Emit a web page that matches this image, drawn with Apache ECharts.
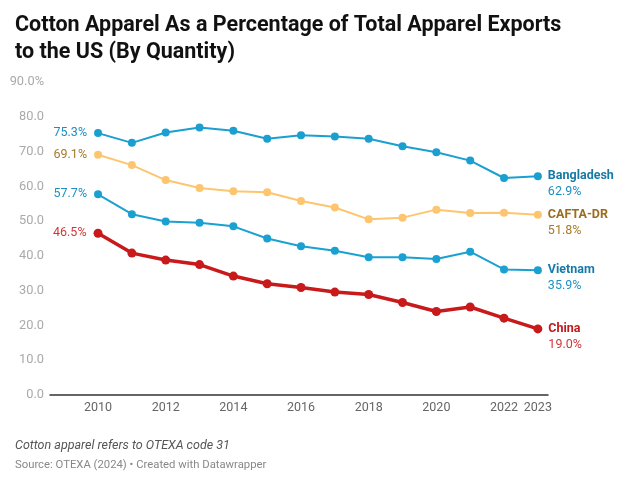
<!DOCTYPE html>
<html>
<head>
<meta charset="utf-8">
<script src="https://cdn.jsdelivr.net/npm/echarts@6/dist/echarts.min.js"></script>
<style>
    html, body { margin: 0; padding: 0; background: #fff; }
    #chart { width: 624px; height: 479px; }
</style>
</head>
<body>
<div id="chart"></div>
<script>
    // years on the x axis
    var years = [2010, 2011, 2012, 2013, 2014, 2015, 2016, 2017, 2018, 2019, 2020, 2021, 2022, 2023];
    var yearTicks = [2010, 2012, 2014, 2016, 2018, 2020, 2022, 2023];

    // share of cotton apparel, %
    var bangladesh = [75.3, 72.5, 75.5, 76.9, 76.0, 73.7, 74.7, 74.3, 73.7, 71.5, 69.8, 67.4, 62.4, 62.9];
    var cafta = [69.1, 66.1, 61.8, 59.5, 58.6, 58.3, 55.8, 53.9, 50.5, 51.0, 53.3, 52.3, 52.4, 51.8];
    var vietnam = [57.7, 52.0, 49.9, 49.5, 48.5, 45.0, 42.8, 41.5, 39.6, 39.6, 39.1, 41.2, 36.1, 35.9];
    var china = [46.5, 40.8, 38.8, 37.5, 34.2, 32.0, 30.9, 29.6, 28.9, 26.6, 24.0, 25.3, 22.1, 19.0];

    var myChart = echarts.init(document.getElementById('chart'));

    function pairs(vals) {
        return years.map(function (y, i) { return [y, vals[i]]; });
    }

    // one line with a % label at the start and name + value at the end
    function makeSeries(name, vals, lineColor, nameColor, valColor, width, symSize) {
        var d = pairs(vals);
        var last = d.length - 1;
        d[0] = {
            value: d[0],
            label: {
                show: true, position: 'left', distance: 7,
                color: valColor, fontSize: 12.5, fontFamily: 'Roboto',
                formatter: function (p) { return p.value[1].toFixed(1) + '%'; }
            }
        };
        d[last] = {
            value: d[last],
            label: {
                show: true, position: 'right', distance: 6, offset: [0, 8],
                formatter: function (p) { return '{n|' + name + '}\n{v|' + p.value[1].toFixed(1) + '%}'; },
                rich: {
                    n: { color: nameColor, fontWeight: 'bold', fontSize: 12.5, fontFamily: 'Roboto', lineHeight: 16 },
                    v: { color: valColor, fontSize: 12.5, fontFamily: 'Roboto', lineHeight: 16 }
                }
            }
        };
        return {
            name: name,
            type: 'line',
            data: d,
            symbol: 'circle',
            symbolSize: symSize,
            lineStyle: { color: lineColor, width: width },
            itemStyle: { color: lineColor },
            emphasis: { disabled: true },
            animation: false
        };
    }

    myChart.setOption({
        textStyle: { fontFamily: 'Roboto' },
        title: [{
            text: 'Cotton Apparel As a Percentage of Total Apparel Exports\nto the US (By Quantity)',
            left: 10, top: 7,
            textStyle: { fontSize: 21.5, fontWeight: 'bold', color: '#111', lineHeight: 27, fontFamily: 'Roboto' }
        }, {
            text: 'Cotton apparel refers to OTEXA code 31',
            left: 10, top: 434,
            textStyle: { fontSize: 12.5, fontStyle: 'italic', fontWeight: 'normal', color: '#555', fontFamily: 'Roboto' }
        }, {
            text: 'Source: OTEXA (2024) • Created with Datawrapper',
            left: 10, top: 455,
            textStyle: { fontSize: 11.3, fontWeight: 'normal', color: '#888', fontFamily: 'Roboto' }
        }],
        grid: { left: 50, right: 76, top: 82, bottom: 84, containLabel: false },
        xAxis: {
            type: 'value',
            min: 2008.58,
            max: 2023.3,
            splitLine: { show: false },
            axisLine: { show: true, onZero: false, lineStyle: { color: '#333', width: 1.5 } },
            axisTick: { show: false },
            axisLabel: {
                customValues: yearTicks,
                color: '#666', fontSize: 12.5, margin: 6,
                formatter: function (v) { return String(v); }
            }
        },
        yAxis: {
            type: 'value',
            min: 0, max: 90, interval: 10,
            splitLine: { show: false },
            axisLine: { show: false },
            axisTick: { show: false },
            axisLabel: {
                color: '#aaa', fontSize: 12.8, margin: 6,
                formatter: function (v) { return v === 90 ? '90.0%' : v.toFixed(1); }
            }
        },
        series: [
            makeSeries('Bangladesh', bangladesh, '#1a9fd0', '#177aa6', '#1c8fc2', 2, 8),
            makeSeries('CAFTA-DR', cafta, '#fec56f', '#9a6d1f', '#a57a2a', 2, 8),
            makeSeries('Vietnam', vietnam, '#1aa1d2', '#177aa6', '#1c92c4', 2, 8),
            makeSeries('China', china, '#c8191b', '#c21a1c', '#d63537', 3.5, 9)
        ]
    });
</script>
</body>
</html>
